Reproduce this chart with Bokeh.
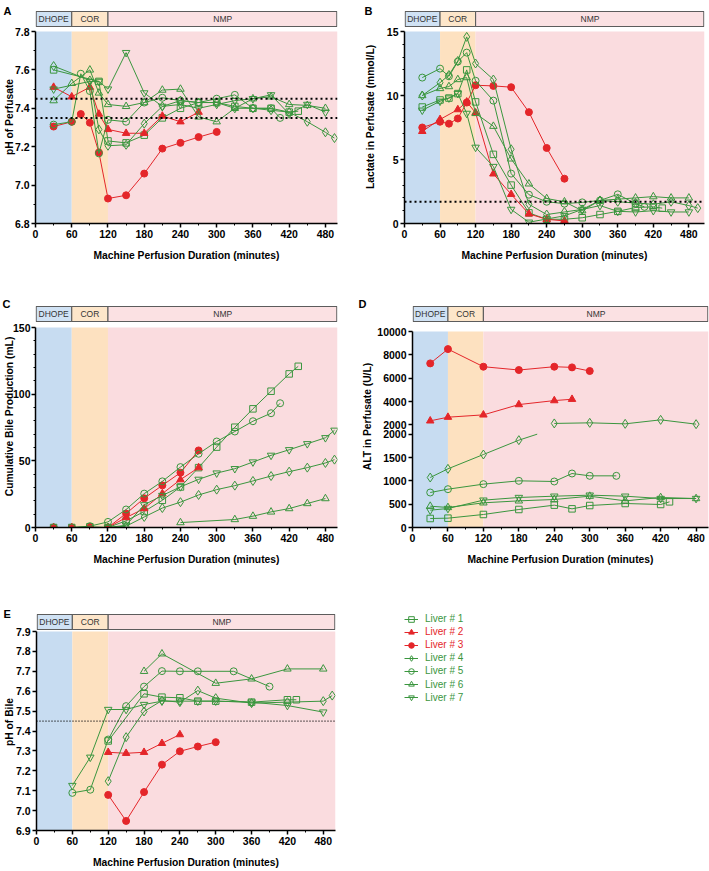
import math
from bokeh.plotting import figure
from bokeh.models import (Range1d, FixedTicker, Span, Legend, LegendItem, Title,
                          PrintfTickFormatter)
from bokeh.layouts import row, column
from bokeh.embed import file_html
from bokeh.resources import INLINE
from bokeh.core.properties import value

# ---------------- data ----------------
liver_names = ["Liver # 1", "Liver # 2", "Liver # 3", "Liver # 4",
               "Liver # 5", "Liver # 6", "Liver # 7"]
phase_names = ["DHOPE", "COR", "NMP"]
phase_start = [0, 60, 120]
phase_end = [60, 120, 510]

x_ticks = [0, 60, 120, 180, 240, 300, 360, 420, 480]
x_minor_ticks = [30, 90, 150, 210, 270, 330, 390, 450]
x_title = "Machine Perfusion Duration (minutes)"

# Panel A: pH of perfusate
a_title = "pH of Perfusate"
a_ticks = [6.8, 7.0, 7.2, 7.4, 7.6, 7.8]
a_minor = [6.9, 7.1, 7.3, 7.5, 7.7]
a_normal = [7.35, 7.45]
a1_t = [30, 105, 120, 150, 180, 210, 240, 270, 300, 330, 360, 390, 420, 435]
a1_y = [7.60, 7.54, 7.23, 7.22, 7.26, 7.35, 7.40, 7.43, 7.43, 7.41, 7.40, 7.40, 7.38, 7.385]
a2_t = [30, 60, 90, 105, 120, 150, 180, 210, 240, 270]
a2_y = [7.51, 7.46, 7.51, 7.37, 7.29, 7.27, 7.27, 7.36, 7.33, 7.38]
a3_t = [30, 60, 75, 90, 105, 120, 150, 180, 210, 240, 270, 300]
a3_y = [7.305, 7.33, 7.37, 7.325, 7.17, 6.93, 6.947, 7.06, 7.19, 7.22, 7.25, 7.277]
a4_t = [30, 90, 105, 120, 150, 180, 210, 240, 270, 300, 330, 360, 390, 420, 450, 480, 495]
a4_y = [7.62, 7.545, 7.29, 7.205, 7.21, 7.32, 7.41, 7.44, 7.43, 7.43, 7.40, 7.40, 7.39, 7.38, 7.33, 7.275, 7.245]
a5_t = [30, 60, 75, 90, 105, 120, 150, 180, 210, 240, 270, 300, 330, 360, 390, 405]
a5_y = [7.315, 7.33, 7.58, 7.49, 7.165, 7.34, 7.33, 7.43, 7.455, 7.44, 7.43, 7.45, 7.47, 7.40, 7.40, 7.35]
a6_t = [30, 60, 90, 105, 120, 150, 180, 210, 240, 270, 300, 330, 360, 390, 420, 450, 480]
a6_y = [7.44, 7.53, 7.60, 7.48, 7.42, 7.41, 7.43, 7.495, 7.50, 7.355, 7.33, 7.40, 7.45, 7.46, 7.42, 7.415, 7.40]
a7_t = [30, 90, 105, 120, 150, 180, 210, 240, 270, 300, 330, 360, 390, 420, 450, 480]
a7_y = [7.50, 7.54, 7.54, 7.50, 7.69, 7.48, 7.41, 7.42, 7.40, 7.42, 7.44, 7.45, 7.47, 7.37, 7.42, 7.38]

# Panel B: lactate in perfusate (mmol/L)
b_title = "Lactate in Perfusate (mmol/L)"
b_ticks = [0, 5, 10, 15]
b_minor = [1, 2, 3, 4, 6, 7, 8, 9, 11, 12, 13, 14]
b_normal = [1.7]
b1_t = [30, 60, 75, 90, 105, 120, 150, 180, 210, 240, 270, 300, 330, 360, 390, 420, 435]
b1_y = [9.1, 9.65, 9.8, 10.15, 12.0, 9.5, 5.4, 3.0, 0.83, 0.33, 0.33, 0.45, 0.7, 0.95, 1.25, 1.3, 1.2]
b2_t = [30, 60, 90, 105, 120, 150, 180, 210, 240, 270]
b2_y = [7.2, 8.13, 8.9, 9.5, 8.65, 3.88, 2.28, 0.75, 0.33, 0.2]
b3_t = [30, 60, 75, 90, 105, 120, 150, 180, 210, 240, 270]
b3_y = [7.5, 7.95, 7.8, 8.2, 9.45, 10.8, 10.75, 10.65, 8.7, 5.9, 3.5]
b4_t = [30, 60, 75, 90, 105, 120, 150, 180, 210, 240, 270, 300, 330, 360, 390, 420, 450, 480, 495]
b4_y = [10.0, 11.0, 11.6, 12.7, 14.58, 12.5, 11.25, 5.8, 1.5, 0.7, 0.9, 1.1, 1.8, 1.7, 1.6, 1.5, 1.7, 1.4, 1.2]
b5_t = [30, 60, 75, 90, 105, 120, 150, 180, 210, 240, 270, 300, 330, 360, 390, 405]
b5_y = [11.4, 12.1, 11.5, 12.65, 13.35, 11.15, 9.6, 3.9, 2.25, 1.7, 1.55, 1.65, 1.8, 2.28, 1.55, 1.3]
b6_t = [30, 60, 75, 90, 105, 120, 150, 180, 210, 240, 270, 300, 330, 360, 390, 420, 450, 480]
b6_y = [10.0, 10.55, 10.7, 11.25, 11.4, 8.6, 7.6, 5.05, 3.1, 1.95, 1.7, 1.0, 1.8, 1.9, 2.0, 2.1, 2.0, 2.0]
b7_t = [30, 60, 75, 90, 105, 120, 150, 180, 210, 240, 270, 300, 330, 360, 390, 420, 450, 480]
b7_y = [8.85, 9.55, 9.8, 10.15, 8.6, 5.95, 4.45, 1.1, 0.1, 0.35, 0.6, 1.1, 1.4, 0.95, 0.9, 1.0, 0.9, 0.9]

# Panel C: cumulative bile production (mL)
c_title = "Cumulative Bile Production (mL)"
c_ticks = [0, 50, 100, 150]
c_minor = [10, 20, 30, 40, 60, 70, 80, 90, 110, 120, 130, 140]
c1_t = [30, 60, 90, 120, 150, 180, 210, 240, 270, 300, 330, 360, 390, 420, 435]
c1_y = [0, 0, 0.5, 0, 5, 12, 20.4, 30.4, 44.9, 60.3, 75.2, 89, 102.2, 115.2, 120.9]
c2_t = [30, 60, 90, 120, 150, 180, 210, 240, 270]
c2_y = [0, 0, 0, 0, 7.5, 14.2, 25.4, 35.9, 44.9]
c3_t = [30, 60, 90, 120, 150, 180, 210, 240, 270]
c3_y = [0, 0, 0, 0, 10.5, 21.9, 31.6, 41.1, 57.8]
c4_t = [120, 150, 180, 210, 240, 270, 300, 330, 360, 390, 420, 450, 480, 495]
c4_y = [0, 1, 7.9, 14.6, 19.0, 24.4, 28.4, 31.4, 34.9, 38.6, 41.9, 44.9, 48.4, 50.9]
c5_t = [30, 60, 90, 120, 150, 180, 210, 240, 270, 300, 330, 360, 390, 405]
c5_y = [0, 0, 1, 4.2, 13.5, 25.4, 34.6, 45.3, 55.3, 64.5, 72, 79.7, 85.7, 93.2]
c6_t = [240, 330, 360, 390, 420, 450, 480]
c6_y = [3.7, 6.0, 8.5, 11.7, 14.2, 18, 21.7]
c7_t = [120, 150, 180, 210, 240, 270, 300, 330, 360, 390, 420, 450, 480, 495]
c7_y = [0, 1.7, 17, 24, 30.5, 36.1, 40.8, 44.1, 49.1, 54.1, 58.3, 62.8, 67.3, 72.9]

# Panel D: ALT in perfusate (U/L), broken axis at 2000
d_title = "ALT in Perfusate (U/L)"
d_break = 2000
d_lower_ticks = [0, 500, 1000, 1500, 2000]
d_upper_ticks = [2000, 4000, 6000, 8000, 10000]
d1_t = [30, 60, 120, 180, 240, 270, 300, 360, 420, 435]
d1_y = [193, 200, 279, 386, 479, 400, 471, 514, 493, 550]
d2_t = [30, 60, 120, 180, 240, 270]
d2_y = [2342, 2655, 2854, 3737, 4078, 4192]
d3_t = [30, 60, 120, 180, 240, 270, 300]
d3_y = [7267, 8491, 6982, 6698, 6982, 6925, 6612]
d4_t = [30, 60, 120, 180, 240, 300, 360, 420, 480]
d4_y = [1071, 1257, 1564, 1871, 2120, 2171, 2085, 2427, 2057]
d5_t = [30, 60, 120, 180, 240, 270, 300, 345]
d5_y = [750, 821, 929, 1000, 986, 1157, 1107, 1107]
d6_t = [30, 60, 120, 180, 240, 300, 360, 420, 480]
d6_y = [457, 429, 529, 571, 600, 671, 571, 643, 621]
d7_t = [30, 60, 120, 180, 240, 300, 360, 420, 480]
d7_y = [371, 407, 586, 643, 671, 693, 671, 621, 621]

# Panel E: pH of bile
e_title = "pH of Bile"
e_ticks = [6.9, 7.0, 7.1, 7.2, 7.3, 7.4, 7.5, 7.6, 7.7, 7.8, 7.9]
e_normal = [7.45]
e1_t = [120, 180, 210, 240, 270, 300, 360, 420, 435]
e1_y = [7.35, 7.587, 7.57, 7.567, 7.55, 7.55, 7.545, 7.557, 7.557]
e2_t = [120, 150, 180, 210, 240]
e2_y = [7.293, 7.288, 7.293, 7.338, 7.382]
e3_t = [120, 150, 180, 210, 240, 270, 300]
e3_y = [7.079, 6.948, 7.093, 7.231, 7.298, 7.322, 7.344]
e4_t = [120, 150, 180, 210, 240, 270, 300, 360, 420, 480, 495]
e4_y = [7.148, 7.369, 7.498, 7.553, 7.545, 7.603, 7.565, 7.54, 7.545, 7.55, 7.578]
e5_t = [60, 90, 120, 150, 180, 210, 240, 270, 330, 390]
e5_y = [7.089, 7.105, 7.357, 7.525, 7.623, 7.701, 7.70, 7.70, 7.70, 7.623]
e6_t = [180, 210, 300, 360, 420, 480]
e6_y = [7.70, 7.788, 7.64, 7.662, 7.712, 7.712]
e7_t = [60, 90, 120, 150, 180, 210, 240, 270, 300, 360, 420, 480]
e7_y = [7.126, 7.268, 7.508, 7.508, 7.533, 7.55, 7.55, 7.55, 7.55, 7.545, 7.528, 7.495]

# ---------------- styles ----------------
FONT = "Liberation Sans"
GREEN = "#3a963e"
RED = "#e4262a"
BG_COLORS = ["#c7dcf1", "#fde1c0", "#fadcdf"]
BAR_COLORS = ["#d0e2f4", "#fde6ca", "#fbe1e3"]
STYLE = [
    ("square", GREEN, False, 6.5),
    ("triangle", RED, True, 7.5),
    ("circle", RED, True, 7),
    ("diamond", GREEN, False, 9),
    ("circle", GREEN, False, 7),
    ("triangle", GREEN, False, 7.5),
    ("inverted_triangle", GREEN, False, 7.5),
]
NAN = float("nan")
BAR_H = 15    # phase bar height (px)


def style_axis(ax, label, label_standoff, tick_standoff=2):
    ax.axis_line_width = 1.5
    ax.axis_line_color = "black"
    ax.major_tick_line_width = 1.5
    ax.major_tick_line_color = "black"
    ax.major_tick_out = 4
    ax.major_tick_in = 0
    ax.minor_tick_out = 2
    ax.minor_tick_in = 0
    ax.minor_tick_line_color = "black"
    ax.minor_tick_line_width = 1
    ax.major_label_text_font = FONT
    ax.major_label_text_font_style = "bold"
    ax.major_label_text_font_size = "10.5px"
    ax.major_label_text_color = "black"
    ax.major_label_standoff = tick_standoff
    ax.axis_label = label
    ax.axis_label_text_font = FONT
    ax.axis_label_text_font_style = "bold"
    ax.axis_label_text_font_size = "10.3px"
    ax.axis_label_text_color = "black"
    ax.axis_label_standoff = label_standoff


def make_panel(letter, letter_offset, letter_standoff, top, width, left, right, bottom, xmax,
               ymin, ymax, yticks, yminor, gap, data_px, ytitle, ytitle_standoff,
               ytick_standoff=2):
    frame_h = 1 + BAR_H + gap + data_px
    height = top + frame_h + bottom
    u = (ymax - ymin) / data_px
    frame_w = width - left - right
    ux = xmax / frame_w
    p = figure(width=width, height=height,
               x_range=Range1d(0, xmax), y_range=Range1d(ymin, ymin + frame_h * u),
               output_backend="svg", toolbar_location=None, tools="",
               min_border_left=left, min_border_right=right,
               min_border_top=top, min_border_bottom=bottom)
    p.title = Title(text=letter, align="left", vertical_align="bottom",
                    offset=letter_offset, standoff=letter_standoff,
                    text_font=FONT, text_font_size="11px", text_font_style="bold",
                    text_color="black")
    p.outline_line_color = None
    p.xgrid.visible = False
    p.ygrid.visible = False
    ends = [min(e, xmax) for e in phase_end]
    p.quad(left=phase_start, right=ends, bottom=ymin, top=ymax,
           fill_color=BG_COLORS, line_color=None)
    bb = ymax + gap * u
    bt = ymax + (gap + BAR_H) * u
    bl = [s + 0.7 * ux if s <= 0 else s for s in phase_start]
    br = [e - 0.7 * ux if e >= xmax else e for e in ends]
    p.quad(left=bl, right=br, bottom=bb, top=bt, fill_color=BAR_COLORS,
           line_color="#5c5c5c", line_width=1.1)
    p.text(x=[(a + b) / 2 for a, b in zip(phase_start, ends)], y=(bb + bt) / 2,
           text=phase_names, text_align="center", text_baseline="middle",
           text_font=value(FONT), text_font_size="8.5px", text_color="#333333")
    xa = p.xaxis[0]
    ya = p.yaxis[0]
    xa.ticker = FixedTicker(ticks=x_ticks, minor_ticks=x_minor_ticks)
    ya.ticker = FixedTicker(ticks=yticks, minor_ticks=yminor)
    ya.bounds = (ymin, ymax)
    style_axis(xa, x_title, 9)
    style_axis(ya, ytitle, ytitle_standoff, ytick_standoff)
    return p


def add_series(p, t, y, k):
    marker, color, filled, size = STYLE[k]
    p.line(t, y, line_color=color, line_width=1)
    p.scatter(t, y, marker=marker, size=size, line_color=color, line_width=1,
              fill_color=color if filled else None)


def normal_lines(p, levels, width=2, dash="2 3"):
    for lv in levels:
        p.add_layout(Span(location=lv, dimension="width", line_color="black",
                          line_width=width, line_dash=dash))


# ---------------- panel A ----------------
pA = make_panel("A", -32, -13, 10, 355, 35, 18, 72, 500, 6.8, 7.8, a_ticks, a_minor, 5, 192,
                a_title, -3)
pA.yaxis[0].formatter = PrintfTickFormatter(format="%.1f")
normal_lines(pA, a_normal)
for k, (t, y) in enumerate([(a1_t, a1_y), (a2_t, a2_y), (a3_t, a3_y), (a4_t, a4_y),
                            (a5_t, a5_y), (a6_t, a6_y), (a7_t, a7_y)]):
    add_series(pA, t, y, k)

# ---------------- panel B ----------------
pB = make_panel("B", -40, -13, 10, 354, 49, 5, 72, 506.4, 0, 15, b_ticks, b_minor, 5, 192,
                b_title, 8)
normal_lines(pB, b_normal)
for k, (t, y) in enumerate([(b1_t, b1_y), (b2_t, b2_y), (b3_t, b3_y), (b4_t, b4_y),
                            (b5_t, b5_y), (b6_t, b6_y), (b7_t, b7_y)]):
    add_series(pB, t, y, k)

# ---------------- panel C ----------------
pC = make_panel("C", -33, -8, 10, 355, 35, 18, 73, 500, 0, 150, c_ticks, c_minor, 6, 200,
                c_title, -5, 1)
for k, (t, y) in enumerate([(c1_t, c1_y), (c2_t, c2_y), (c3_t, c3_y), (c4_t, c4_y),
                            (c5_t, c5_y), (c6_t, c6_y), (c7_t, c7_y)]):
    add_series(pC, t, y, k)

# ---------------- panel D (broken axis) ----------------
def alt_disp(v):
    return v / 20.0 if v <= d_break else 110 + (v - d_break) / 80.0


def alt_runs(t, v):
    runs = []
    cx, cy = [t[0]], [alt_disp(v[0])]
    for i in range(1, len(t)):
        lo0 = v[i - 1] <= d_break
        lo1 = v[i] <= d_break
        if lo0 == lo1:
            cx.append(t[i])
            cy.append(alt_disp(v[i]))
        else:
            tc = t[i - 1] + (d_break - v[i - 1]) / (v[i] - v[i - 1]) * (t[i] - t[i - 1])
            if lo0:
                cx.append(tc)
                cy.append(alt_disp(d_break))
            runs.append((cx, cy))
            cx, cy = [t[i]], [alt_disp(v[i])]
    runs.append((cx, cy))
    return runs


d_tick_pos = [alt_disp(v) for v in d_lower_ticks] + [110 + (v - d_break) / 80.0 for v in d_upper_ticks]
d_tick_pos = [int(round(x)) for x in d_tick_pos]
d_tick_lab = [str(v) for v in d_lower_ticks] + [str(v) for v in d_upper_ticks]
pD = make_panel("D", -54, -8, 10, 354, 57, 1, 73, 501, 0, d_tick_pos[-1], d_tick_pos, [],
                10, 196, d_title, 1)
pD.yaxis[0].major_label_overrides = {pos: lab for pos, lab in zip(d_tick_pos, d_tick_lab)}
for k, (t, y) in enumerate([(d1_t, d1_y), (d2_t, d2_y), (d3_t, d3_y), (d4_t, d4_y),
                            (d5_t, d5_y), (d6_t, d6_y), (d7_t, d7_y)]):
    marker, color, filled, size = STYLE[k]
    runs = alt_runs(t, y)
    pD.multi_line([r[0] for r in runs], [r[1] for r in runs], line_color=color, line_width=1)
    pD.scatter(t, [alt_disp(v) for v in y], marker=marker, size=size, line_color=color,
               line_width=1, fill_color=color if filled else None)

# ---------------- panel E ----------------
E_TOP = 13
pE = make_panel("E", -33, -12, E_TOP, 355, 35, 20, 41, 500.5, 6.9, 7.9, e_ticks, [], 2, 199,
                e_title, -2)
pE.yaxis[0].formatter = PrintfTickFormatter(format="%.1f")
normal_lines(pE, e_normal, width=1.2, dash="1 2")
for k, (t, y) in enumerate([(e1_t, e1_y), (e2_t, e2_y), (e3_t, e3_y), (e4_t, e4_y),
                            (e5_t, e5_y), (e6_t, e6_y), (e7_t, e7_y)]):
    add_series(pE, t, y, k)

# ---------------- legend ----------------
LEG_FRAME_BOTTOM = E_TOP + 1 + BAR_H + 2 + 199
pL = figure(width=354, height=LEG_FRAME_BOTTOM + 41, x_range=Range1d(0, 1),
            y_range=Range1d(0, 1), x_axis_type=None, y_axis_type=None, output_backend="svg",
            toolbar_location=None, tools="", min_border_left=0, min_border_right=0,
            min_border_top=E_TOP, min_border_bottom=41)
pL.outline_line_color = None
pL.grid.visible = False
for k in range(7):
    marker, color, filled, size = STYLE[k]
    rl = pL.line([NAN], [NAN], line_color=color, line_width=1)
    rm = pL.scatter([NAN], [NAN], marker=marker, size=size, line_color=color, line_width=1,
                    fill_color=color if filled else None)
    cy = 18.5 + 13.1 * k
    leg = Legend(items=[LegendItem(label=liver_names[k], renderers=[rl, rm])],
                 location=(49, LEG_FRAME_BOTTOM - cy - 8), padding=0, margin=0,
                 border_line_color=None, background_fill_alpha=0,
                 glyph_width=14, glyph_height=16, label_height=16, label_standoff=7,
                 label_text_font=FONT, label_text_font_size="10px",
                 label_text_color=color, label_text_baseline="middle")
    pL.add_layout(leg)

layout = column(row(pA, pB), row(pC, pD), row(pE, pL))
open("out.html", "w").write(file_html(layout, INLINE))
